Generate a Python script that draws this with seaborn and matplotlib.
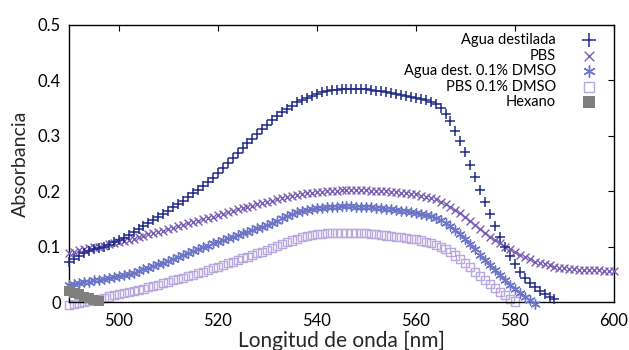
import matplotlib
matplotlib.use('Agg')
import matplotlib.pyplot as plt
import seaborn as sns
import numpy as np

# wavelengths (nm), one reading per nm
wl_agua = list(range(490, 589))
agua = [0.073, 0.078, 0.083, 0.088, 0.092, 0.095, 0.098, 0.100, 0.103, 0.108,
        0.112, 0.116, 0.121, 0.126, 0.131, 0.137, 0.142, 0.148, 0.153, 0.159,
        0.165, 0.171, 0.177, 0.183, 0.189, 0.196, 0.203, 0.210, 0.217, 0.224,
        0.232, 0.241, 0.250, 0.259, 0.268, 0.277, 0.286, 0.295, 0.304, 0.312,
        0.320, 0.328, 0.335, 0.342, 0.348, 0.354, 0.360, 0.364, 0.368, 0.372,
        0.375, 0.378, 0.380, 0.382, 0.383, 0.384, 0.385, 0.385, 0.385, 0.384,
        0.384, 0.383, 0.381, 0.380, 0.378, 0.377, 0.375, 0.373, 0.372, 0.370,
        0.368, 0.366, 0.364, 0.361, 0.357, 0.350, 0.340, 0.326, 0.309, 0.290,
        0.270, 0.248, 0.226, 0.203, 0.180, 0.158, 0.137, 0.117, 0.099, 0.083,
        0.068, 0.055, 0.044, 0.035, 0.027, 0.020, 0.014, 0.009, 0.005]

wl_pbs = list(range(490, 601))
pbs = [0.089, 0.091, 0.093, 0.095, 0.097, 0.099, 0.100, 0.102, 0.104, 0.106,
       0.108, 0.110, 0.112, 0.114, 0.117, 0.119, 0.122, 0.124, 0.127, 0.129,
       0.132, 0.134, 0.137, 0.139, 0.142, 0.144, 0.147, 0.149, 0.152, 0.154,
       0.157, 0.159, 0.162, 0.164, 0.167, 0.169, 0.172, 0.174, 0.177, 0.179,
       0.181, 0.183, 0.186, 0.188, 0.190, 0.192, 0.193, 0.195, 0.196, 0.197,
       0.198, 0.199, 0.200, 0.201, 0.201, 0.202, 0.202, 0.202, 0.202, 0.202,
       0.202, 0.201, 0.201, 0.200, 0.200, 0.199, 0.198, 0.197, 0.196, 0.195,
       0.194, 0.192, 0.190, 0.188, 0.185, 0.181, 0.177, 0.172, 0.166, 0.160,
       0.153, 0.146, 0.139, 0.132, 0.125, 0.118, 0.112, 0.106, 0.100, 0.095,
       0.090, 0.085, 0.081, 0.077, 0.073, 0.070, 0.068, 0.066, 0.064, 0.062,
       0.061, 0.060, 0.059, 0.058, 0.058, 0.057, 0.057, 0.057, 0.056, 0.056,
       0.056]

wl_agua_dmso = list(range(490, 585))
agua_dmso = [0.031, 0.033, 0.034, 0.036, 0.037, 0.039, 0.040, 0.042, 0.043, 0.045,
             0.047, 0.049, 0.051, 0.053, 0.056, 0.059, 0.062, 0.065, 0.068, 0.071,
             0.074, 0.078, 0.081, 0.085, 0.088, 0.092, 0.095, 0.099, 0.102, 0.106,
             0.109, 0.112, 0.115, 0.118, 0.121, 0.124, 0.127, 0.130, 0.133, 0.136,
             0.139, 0.143, 0.147, 0.151, 0.155, 0.159, 0.162, 0.164, 0.166, 0.168,
             0.169, 0.170, 0.171, 0.172, 0.172, 0.173, 0.173, 0.173, 0.172, 0.172,
             0.171, 0.171, 0.170, 0.169, 0.168, 0.167, 0.166, 0.165, 0.164, 0.162,
             0.161, 0.159, 0.157, 0.155, 0.152, 0.148, 0.143, 0.137, 0.130, 0.122,
             0.113, 0.104, 0.095, 0.085, 0.075, 0.066, 0.057, 0.048, 0.039, 0.031,
             0.023, 0.016, 0.009, 0.003, -0.003]

wl_pbs_dmso = list(range(490, 581))
pbs_dmso = [-0.006, -0.004, -0.002, 0.000, 0.002, 0.004, 0.006, 0.008, 0.010, 0.012,
            0.014, 0.016, 0.018, 0.020, 0.022, 0.024, 0.027, 0.029, 0.031, 0.034,
            0.036, 0.039, 0.041, 0.044, 0.047, 0.049, 0.052, 0.055, 0.058, 0.061,
            0.064, 0.067, 0.070, 0.073, 0.076, 0.079, 0.082, 0.085, 0.088, 0.091,
            0.094, 0.097, 0.101, 0.104, 0.108, 0.111, 0.114, 0.117, 0.119, 0.121,
            0.122, 0.123, 0.124, 0.124, 0.125, 0.125, 0.125, 0.125, 0.125, 0.124,
            0.124, 0.123, 0.122, 0.121, 0.120, 0.119, 0.118, 0.117, 0.115, 0.114,
            0.113, 0.111, 0.109, 0.106, 0.103, 0.099, 0.095, 0.090, 0.084, 0.077,
            0.070, 0.063, 0.055, 0.047, 0.039, 0.032, 0.025, 0.018, 0.012, 0.006,
            0.001]

wl_hexano = list(range(490, 497))
hexano = [0.020, 0.017, 0.014, 0.010, 0.007, 0.004, 0.001]

labels = ['Agua destilada', 'PBS', 'Agua dest. 0.1% DMSO', 'PBS 0.1% DMSO', 'Hexano']
colors = ['#1f2a88', '#7a5db4', '#6d76c6', '#b9a8de', '#7f7f7f']

xticks = [500, 520, 540, 560, 580, 600]
yticks = [0, 0.1, 0.2, 0.3, 0.4, 0.5]
yticklabels = ['0', '0.1', '0.2', '0.3', '0.4', '0.5']

sns.set_style('white')
plt.rcParams['font.family'] = ['Lato', 'DejaVu Sans']

fig = plt.figure(figsize=(6.29, 3.5), dpi=100)
ax = fig.add_subplot(111)
fig.subplots_adjust(left=0.110, right=0.976, bottom=0.137, top=0.929)

# marker styles per series (gnuplot-like point types)
styles = [
    dict(marker='+', s=60, linewidths=1.1, color=colors[0]),
    dict(marker='x', s=32, linewidths=1.0, color=colors[1]),
    dict(marker=(6, 2, 0), s=45, linewidths=1.0, color=colors[2]),
    dict(marker='s', s=34, linewidth=1.0, facecolor='none', edgecolor=colors[3]),
    dict(marker='s', s=50, linewidth=0, color=colors[4]),
]
series = [(wl_agua, agua), (wl_pbs, pbs), (wl_agua_dmso, agua_dmso),
          (wl_pbs_dmso, pbs_dmso), (wl_hexano, hexano)]
zorders = [5, 4, 3, 2, 6]

for (xs, ys), st, z in zip(series, styles, zorders):
    sns.scatterplot(x=xs, y=ys, clip_on=False, ax=ax, zorder=z, legend=False, **st)

ax.set_xlim(490, 600)
ax.set_ylim(0, 0.5)
ax.set_xticks(xticks)
ax.set_yticks(yticks)
ax.set_yticklabels(yticklabels)
ax.tick_params(direction='in', length=4, width=0.8, top=True, right=True,
               labelsize=12, colors='black', pad=6)
ax.tick_params(axis='x', pad=8)
for sp in ax.spines.values():
    sp.set_color('black')
    sp.set_linewidth(1.0)

ax.set_xlabel('Longitud de onda [nm]', fontsize=15, labelpad=1)
ax.set_ylabel('Absorbancia', fontsize=14, labelpad=6)

# gnuplot-style key: right-aligned text, sample to its right
for i, (lab, st) in enumerate(zip(labels, styles)):
    ky = 0.945 - i * 0.056
    ax.text(0.894, ky, lab, transform=ax.transAxes, ha='right', va='center',
            fontsize=10.5, color='black')
    ax.scatter([0.954], [ky], transform=ax.transAxes, clip_on=False, zorder=7,
               **{k: v for k, v in st.items() if k != 's'},
               s=st['s'] * 1.5)

plt.savefig('out.png', dpi=100)
